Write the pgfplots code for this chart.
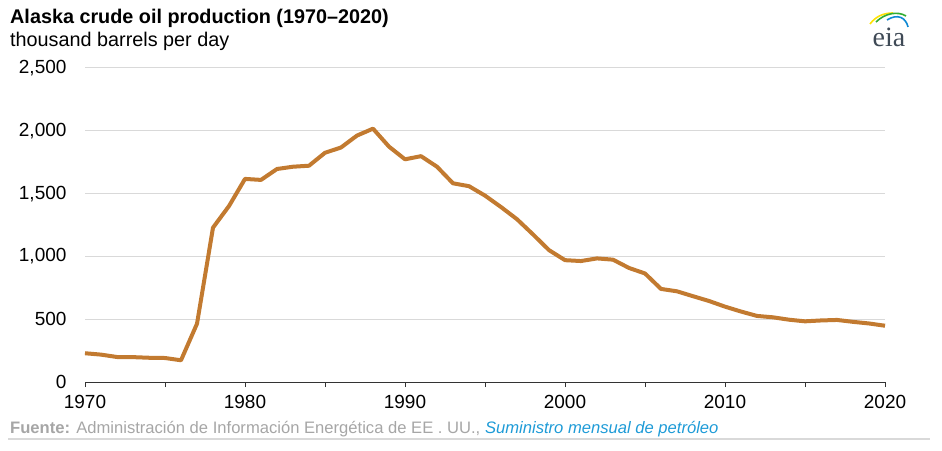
\documentclass[border=0pt]{standalone}
\usepackage{pgfplots}
\pgfplotsset{compat=1.18}
\usepackage{fontspec}
\setmainfont{Liberation Sans}
\newfontfamily\logofont{Liberation Serif}

\definecolor{oilline}{HTML}{C27A30}
\definecolor{gridgray}{HTML}{D9D9D9}
\definecolor{srcgray}{HTML}{A6A6A6}
\definecolor{srcblue}{HTML}{1E9BD7}
\definecolor{logogray}{HTML}{3F4A56}

\pgfplotstableread{
year value
1970 229
1971 218
1972 199
1973 198
1974 193
1975 191
1976 173
1977 464
1978 1229
1979 1401
1980 1617
1981 1609
1982 1696
1983 1714
1984 1722
1985 1825
1986 1867
1987 1962
1988 2017
1989 1874
1990 1773
1991 1798
1992 1714
1993 1582
1994 1559
1995 1484
1996 1393
1997 1296
1998 1175
1999 1050
2000 970
2001 963
2002 984
2003 974
2004 908
2005 864
2006 741
2007 722
2008 683
2009 645
2010 600
2011 561
2012 526
2013 515
2014 496
2015 483
2016 490
2017 494
2018 479
2019 466
2020 448
}\alaska

\begin{document}
\begin{tikzpicture}[x=1pt,y=1pt]
\useasboundingbox (0,0) rectangle (942,450);

% titles
\node[anchor=west,inner sep=0pt,font=\fontsize{19.8}{23}\selectfont\bfseries] at (10,432) {Alaska crude oil production (1970--2020)};
\node[anchor=west,inner sep=0pt,font=\fontsize{19.8}{23}\selectfont] at (10,409) {thousand barrels per day};

\begin{axis}[
    at={(85pt,68pt)}, anchor=south west,
    scale only axis,
    width=800pt, height=314pt,
    xmin=1970, xmax=2020,
    ymin=0, ymax=2500,
    axis x line*=bottom, axis y line*=left,
    y axis line style={draw=none},
    x axis line style={draw=black!80, line width=1pt},
    xtick={1970,1980,...,2020},
    minor xtick={1975,1985,...,2015},
    ytick={0,500,...,2500},
    tick align=outside,
    major tick length=5pt, minor tick length=5pt,
    xtick style={draw=black!80, line width=1pt},
    minor x tick style={draw=black!80, line width=1pt},
    ytick style={draw=none},
    ymajorgrids,
    grid style={gridgray, line width=1pt},
    tick label style={font=\fontsize{19}{22}\selectfont, /pgf/number format/assume math mode=true},
    yticklabel style={/pgf/number format/1000 sep={,}, xshift=-10pt},
    xticklabel style={/pgf/number format/1000 sep={}, yshift=-5pt},
    clip=false,
]
\addplot[oilline, line width=4pt, line join=round] table[x=year, y=value] {\alaska};
\end{axis}

% source
\node[anchor=west,inner sep=0pt,font=\fontsize{16.6}{19}\selectfont,text=srcgray] at (10,21)
  {\textbf{Fuente:} Administración de Información Energética de EE . UU., \textcolor{srcblue}{\itshape Suministro mensual de petróleo}};
\draw[gridgray, line width=2pt] (8,11) -- (930,11);

% logo
\node[inner sep=0pt,font=\logofont\fontsize{28}{28}\selectfont,text=logogray] at (889,413) {eia};
\draw[yellow!85!orange, line width=1.6pt] (870,426) .. controls (876,434) and (884,437) .. (893,437);
\draw[green!60!black!80, line width=1.6pt] (876,428) .. controls (885,437) and (898,439) .. (906,434);
\draw[cyan!70!blue, line width=1.6pt] (887,430) .. controls (898,437) and (906,432) .. (908,423);
\end{tikzpicture}
\end{document}
